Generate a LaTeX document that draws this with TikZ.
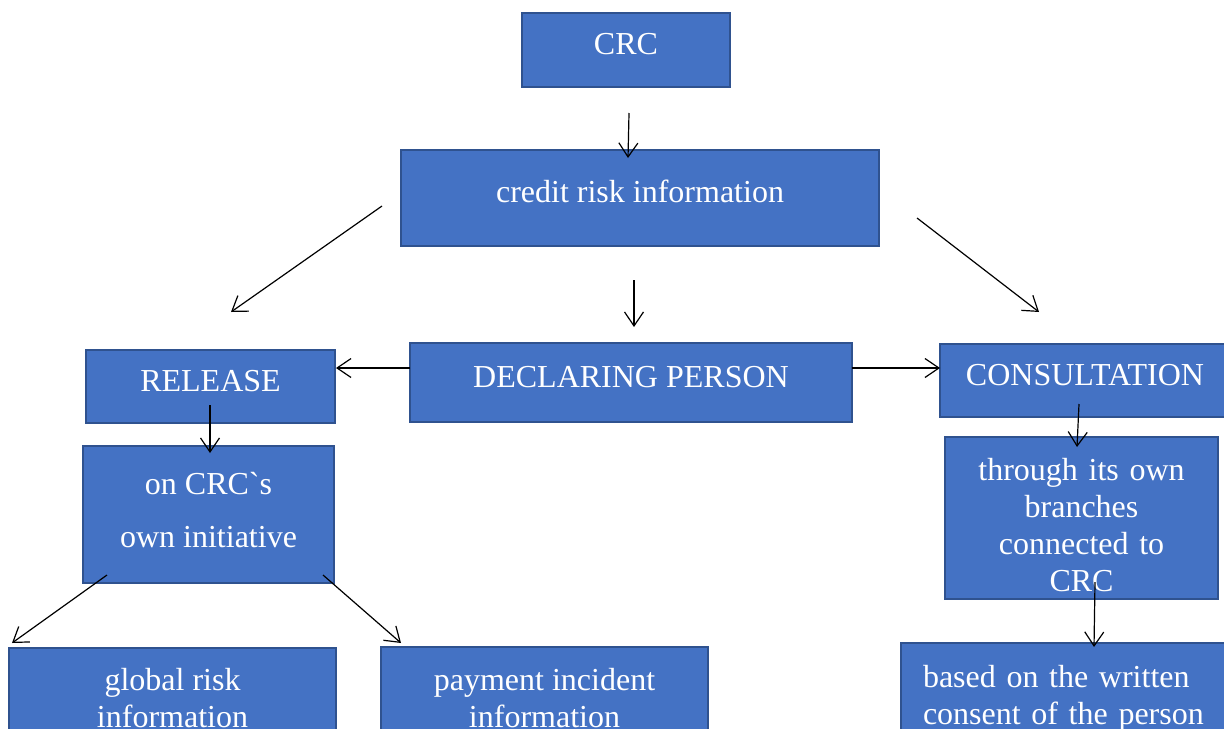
\documentclass[tikz,border=0pt]{standalone}
\usepackage{fontspec}
\setmainfont{Liberation Serif}
\usetikzlibrary{arrows.meta}
\definecolor{boxfill}{HTML}{4472C4}
\definecolor{boxline}{HTML}{2F528F}
\newcommand{\gravechar}{\XeTeXglyph\XeTeXcharglyph"0060\relax}
\begin{document}
\begin{tikzpicture}[x=0.5pt,y=-0.5pt,
  box/.style={draw=boxline, line width=1pt, fill=boxfill, text=white, inner sep=0pt,
    font=\fontsize{16pt}{18.5pt}\selectfont, align=center},
  one/.style={text height=0.8em, text depth=0.31em},
  conn/.style={draw=black, line width=0.6pt, -{Straight Barb[length=7pt,width=9.5pt]}}]
\clip (0,0) rectangle (1224,728);
\fill[white] (0,0) rectangle (1224,728);
% boxes
\node[box,one,minimum width=104pt,minimum height=37pt] (crc) at (626,50) {CRC};
\node[box,one,minimum width=239pt,minimum height=48pt] (cri) at (640,198) {credit risk information};
\node[box,one,minimum width=221pt,minimum height=39.5pt] (decl) at (631,382.5) {DECLARING PERSON};
\node[box,one,minimum width=124.5pt,minimum height=36.5pt] (rel) at (210.5,386.5) {RELEASE};
\node[box,one,minimum width=145pt,minimum height=36.5pt] (cons) at (1085,380.5) {CONSULTATION};
\node[box,minimum width=125.5pt,minimum height=68.5pt,text depth=5pt] (own) at (208.5,514.5) {on CRC\gravechar s\\[8pt]own initiative};
\node[box,minimum width=136.5pt,minimum height=81pt,text width=136pt,text depth=48.5pt] (branch) at (1081.5,518) {through its own\\branches\\connected to\\CRC};
\node[box,minimum width=163.5pt,minimum height=50.5pt] (glob) at (172.5,698.5) {global risk\\information};
\node[box,minimum width=163.5pt,minimum height=51.5pt] (pay) at (544.5,698.5) {payment incident\\information};
\node[box,minimum width=174.5pt,minimum height=51pt,text width=152.5pt,align=left,text depth=18pt] (cons2) at (1075.5,694) {based on the written\\consent of the person};
% arrow ends
\coordinate (a1s) at (629,113); \coordinate (a1e) at (628,158);
\coordinate (a2s) at (382,206); \coordinate (a2e) at (231,312);
\coordinate (a3s) at (634,280); \coordinate (a3e) at (634,327);
\coordinate (a4s) at (917,218); \coordinate (a4e) at (1039,312);
\coordinate (a5s) at (410,368); \coordinate (a5e) at (336,368);
\coordinate (a6s) at (852,368); \coordinate (a6e) at (940,368);
\coordinate (a7s) at (210,405); \coordinate (a7e) at (210,453);
\coordinate (a8s) at (1079,404); \coordinate (a8e) at (1077,447);
\coordinate (a9s) at (107,575); \coordinate (a9e) at (12,643);
\coordinate (a10s) at (323,575); \coordinate (a10e) at (401,643);
\coordinate (a11s) at (1095,582); \coordinate (a11e) at (1094,647);
% connectors
\draw[conn] (a1s) -- (a1e);
\draw[conn] (a2s) -- (a2e);
\draw[conn] (a3s) -- (a3e);
\draw[conn] (a4s) -- (a4e);
\draw[conn] (a5s) -- (a5e);
\draw[conn] (a6s) -- (a6e);
\draw[conn] (a7s) -- (a7e);
\draw[conn] (a8s) -- (a8e);
\draw[conn] (a9s) -- (a9e);
\draw[conn] (a10s) -- (a10e);
\draw[conn] (a11s) -- (a11e);
\end{tikzpicture}
\end{document}
